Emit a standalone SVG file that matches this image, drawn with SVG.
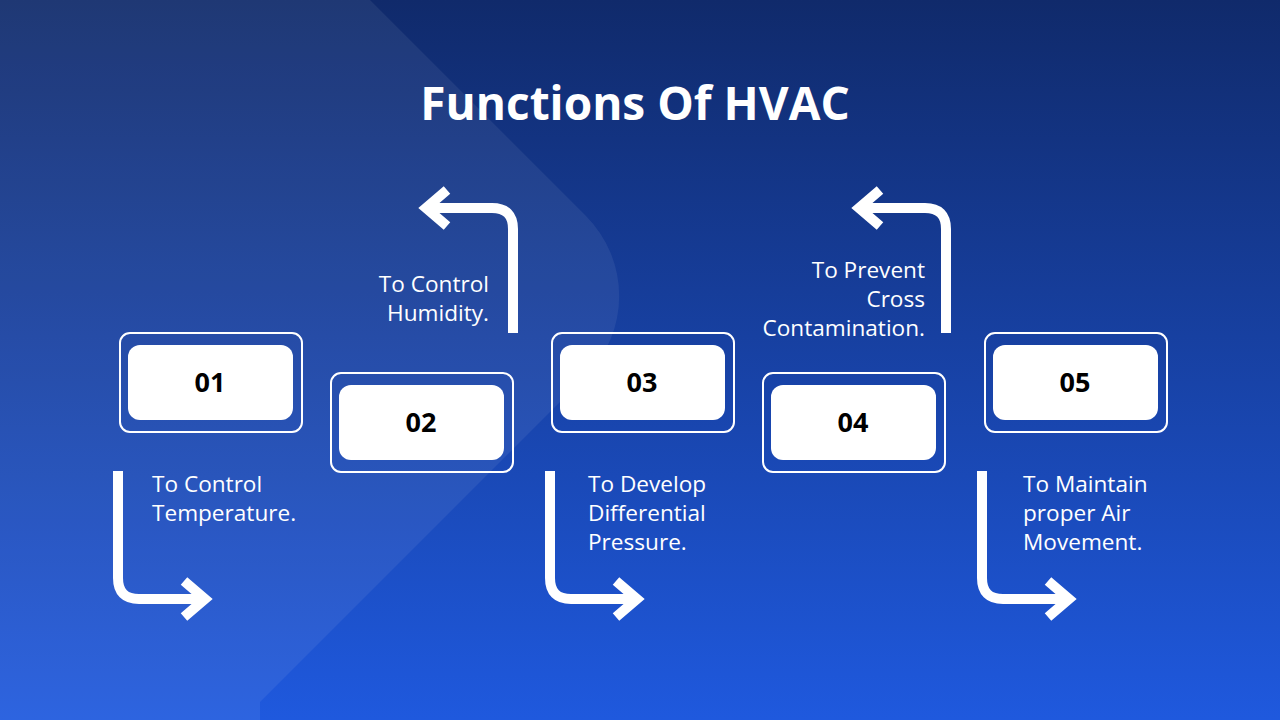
<svg xmlns="http://www.w3.org/2000/svg" width="1280" height="720" viewBox="0 0 1280 720">
  <defs>
    <linearGradient id="bg" x1="0" y1="0" x2="0" y2="1">
      <stop offset="0" stop-color="#102a6b"/>
      <stop offset="1" stop-color="#1f59de"/>
    </linearGradient>
    <style>
      .outer { fill: none; stroke: #ffffff; stroke-width: 2; }
      .inner { fill: #ffffff; }
      .num { font-family: "Open Sans", "Noto Sans", sans-serif; font-weight: 700; font-size: 27px; fill: #000000; text-anchor: middle; }
      .lbl { font-family: "Open Sans", "Noto Sans", sans-serif; font-size: 22.6px; fill: #ffffff; }
      .title { font-family: "Open Sans", "Noto Sans", sans-serif; font-weight: 700; font-size: 46px; fill: #ffffff; text-anchor: middle; }
      .arr { fill: none; stroke: #ffffff; stroke-width: 10; }
    </style>
  </defs>
  <rect x="0" y="0" width="1280" height="720" fill="url(#bg)"/>
  <path d="M0,0 H370 L586,216 A113,113 0 0 1 586,376 L260,702 V720 H0 Z" fill="#ffffff" fill-opacity="0.065"/>
  <text class="title" x="635" y="120">Functions Of HVAC</text>

  <g id="connectors">
    <path class="arr" d="M118,471 V578 Q118,599 139,599 H206"/>
    <path class="arr" d="M184,581 L205,599 L184,617"/>
    <path class="arr" d="M513,333 V229 Q513,208 492,208 H425"/>
    <path class="arr" d="M447,190 L426,208 L447,226"/>
    <path class="arr" d="M550,471 V578 Q550,599 571,599 H638"/>
    <path class="arr" d="M616,581 L637,599 L616,617"/>
    <path class="arr" d="M946,333 V229 Q946,208 925,208 H858"/>
    <path class="arr" d="M880,190 L859,208 L880,226"/>
    <path class="arr" d="M982,471 V578 Q982,599 1003,599 H1070"/>
    <path class="arr" d="M1048,581 L1069,599 L1048,617"/>
  </g>

  <g id="node01">
    <rect class="outer" x="120" y="333" width="182" height="99" rx="10"/>
    <rect class="inner" x="128" y="345" width="165" height="75" rx="12"/>
    <text class="num" x="210" y="392">01</text>
    <text class="lbl" x="152" y="492">To Control</text>
    <text class="lbl" x="152" y="521">Temperature.</text>
  </g>
  <g id="node02">
    <rect class="outer" x="331" y="373" width="182" height="99" rx="10"/>
    <rect class="inner" x="339" y="385" width="165" height="75" rx="12"/>
    <text class="num" x="421" y="432">02</text>
    <text class="lbl" x="489" y="292" text-anchor="end">To Control</text>
    <text class="lbl" x="489" y="321" text-anchor="end">Humidity.</text>
  </g>
  <g id="node03">
    <rect class="outer" x="552" y="333" width="182" height="99" rx="10"/>
    <rect class="inner" x="560" y="345" width="165" height="75" rx="12"/>
    <text class="num" x="642" y="392">03</text>
    <text class="lbl" x="588" y="492">To Develop</text>
    <text class="lbl" x="588" y="521">Differential</text>
    <text class="lbl" x="588" y="550">Pressure.</text>
  </g>
  <g id="node04">
    <rect class="outer" x="763" y="373" width="182" height="99" rx="10"/>
    <rect class="inner" x="771" y="385" width="165" height="75" rx="12"/>
    <text class="num" x="853" y="432">04</text>
    <text class="lbl" x="925" y="278" text-anchor="end">To Prevent</text>
    <text class="lbl" x="925" y="307" text-anchor="end">Cross</text>
    <text class="lbl" x="925" y="336" text-anchor="end">Contamination.</text>
  </g>
  <g id="node05">
    <rect class="outer" x="985" y="333" width="182" height="99" rx="10"/>
    <rect class="inner" x="993" y="345" width="165" height="75" rx="12"/>
    <text class="num" x="1075" y="392">05</text>
    <text class="lbl" x="1023" y="492">To Maintain</text>
    <text class="lbl" x="1023" y="521">proper Air</text>
    <text class="lbl" x="1023" y="550">Movement.</text>
  </g>
</svg>
